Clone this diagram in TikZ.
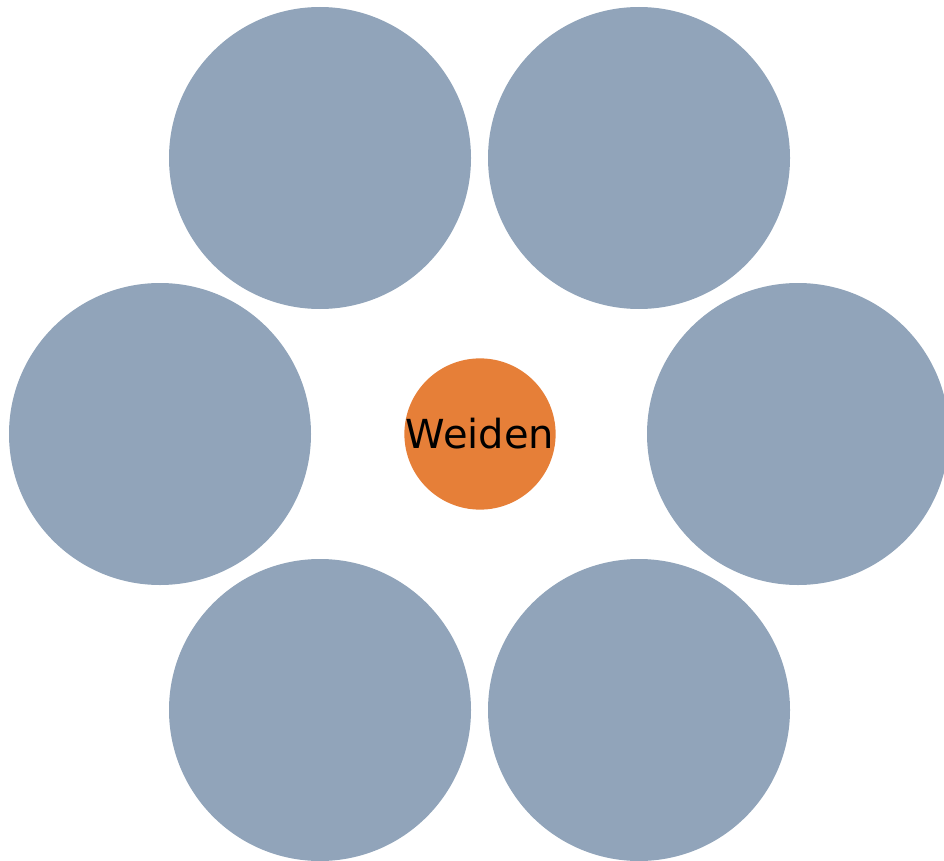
\documentclass[tikz,border=0pt]{standalone}
\usepackage{fontspec}
\setmainfont{DejaVu Sans}
\usepackage{xcolor}
\usepackage{tikz}
\usetikzlibrary{positioning}
\definecolor{petalgray}{HTML}{91A4BA}
\definecolor{hubOrange}{HTML}{E67F38}

\begin{document}
\begin{tikzpicture}[x=1pt,y=-1pt,
    petal/.style={circle,fill=petalgray,minimum size=302pt,inner sep=0pt},
    hub/.style={circle,fill=hubOrange,minimum size=150pt,inner sep=0pt,font=\fontsize{40}{48}\selectfont}]
    \useasboundingbox (0,0) rectangle (944,861);
    \node[hub] (weiden) at (480,434) {Weiden};
    \node[petal] (topleft) at (320,158) {};
    \node[petal] (topright) at (639,158) {};
    \node[petal] (left) at (160,434) {};
    \node[petal] (right) at (798,434) {};
    \node[petal] (bottomleft) at (320,710) {};
    \node[petal] (bottomright) at (639,710) {};
\end{tikzpicture}
\end{document}
